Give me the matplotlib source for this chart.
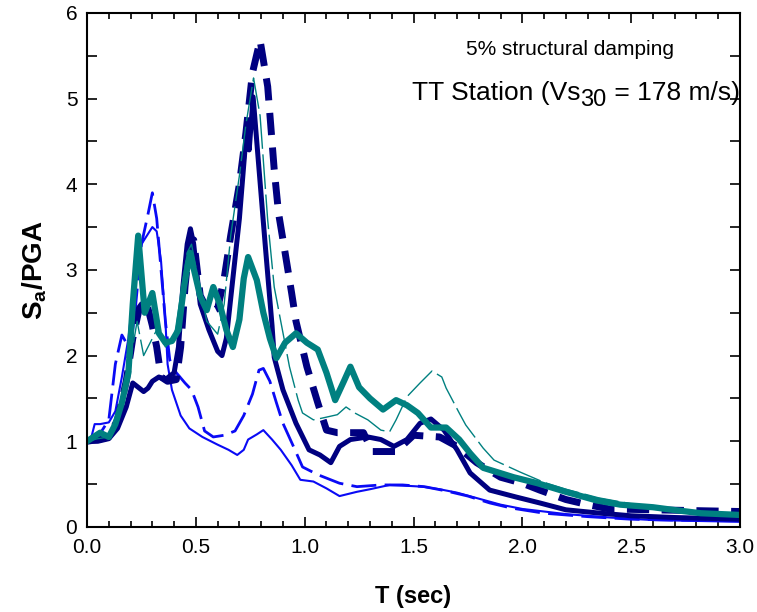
import matplotlib
matplotlib.use('Agg')
import matplotlib.pyplot as plt
from matplotlib.ticker import MultipleLocator, FormatStrFormatter

plt.rcParams['font.family'] = ['Liberation Sans', 'DejaVu Sans']
plt.rcParams['mathtext.fontset'] = 'custom'
plt.rcParams['mathtext.rm'] = 'Liberation Sans'
plt.rcParams['mathtext.it'] = 'Liberation Sans:italic'
plt.rcParams['mathtext.bf'] = 'Liberation Sans:bold'

# blue, thin solid
blue_solid_t = [0, 0.02, 0.035, 0.06, 0.1, 0.13, 0.16, 0.19, 0.22, 0.25, 0.27, 0.30, 0.32, 0.34,
                0.36, 0.37, 0.39, 0.43, 0.47, 0.53, 0.6, 0.65, 0.69, 0.72, 0.74, 0.78, 0.81, 0.85,
                0.89, 0.94, 0.98, 1.04, 1.1, 1.16, 1.24, 1.3, 1.39, 1.47, 1.54, 1.62, 1.7, 1.8,
                1.9, 2.0, 2.2, 2.4, 2.6, 2.8, 3.0]
blue_solid_sa = [1.0, 1.05, 1.2, 1.2, 1.22, 1.35, 1.75, 2.2, 2.9, 3.3, 3.38, 3.5, 3.45, 3.1,
                 2.4, 1.9, 1.6, 1.3, 1.15, 1.05, 0.96, 0.9, 0.84, 0.9, 1.02, 1.08, 1.13, 1.02,
                 0.9, 0.72, 0.55, 0.53, 0.45, 0.36, 0.41, 0.44, 0.49, 0.48, 0.47, 0.44, 0.40, 0.33,
                 0.26, 0.21, 0.15, 0.11, 0.08, 0.07, 0.06]

# blue, dashed
blue_dash_t = [0, 0.05, 0.1, 0.13, 0.16, 0.18, 0.2, 0.22, 0.25, 0.28, 0.30, 0.32, 0.34, 0.36,
               0.38, 0.41, 0.45, 0.48, 0.51, 0.54, 0.58, 0.63, 0.68, 0.72, 0.76, 0.79, 0.81, 0.84,
               0.87, 0.9, 0.95, 0.99, 1.06, 1.16, 1.24, 1.35, 1.45, 1.55, 1.65, 1.75, 1.85, 1.95,
               2.1, 2.3, 2.5, 2.7, 3.0]
blue_dash_sa = [1.0, 1.05, 1.25, 1.9, 2.24, 2.15, 2.1, 2.5, 3.3, 3.65, 3.9, 3.6, 3.0, 2.4,
                1.95, 1.8, 1.68, 1.6, 1.4, 1.12, 1.05, 1.07, 1.12, 1.3, 1.55, 1.83, 1.85, 1.7,
                1.45, 1.21, 0.93, 0.7, 0.61, 0.51, 0.47, 0.49, 0.49, 0.47, 0.42, 0.36, 0.28, 0.22,
                0.16, 0.12, 0.09, 0.08, 0.07]

# navy, thick solid
navy_solid_t = [0, 0.05, 0.1, 0.14, 0.18, 0.21, 0.24, 0.26, 0.28, 0.30, 0.33, 0.36, 0.40, 0.42,
                0.44, 0.46, 0.475, 0.49, 0.52, 0.56, 0.6, 0.62, 0.64, 0.67, 0.70, 0.735, 0.745,
                0.763, 0.79, 0.82, 0.85, 0.86, 0.9, 0.96, 1.02, 1.07, 1.12, 1.16, 1.21, 1.29,
                1.35, 1.41, 1.47, 1.53, 1.58, 1.64, 1.70, 1.76, 1.85, 1.97, 2.08, 2.2, 2.36, 2.5,
                2.7, 3.0]
navy_solid_sa = [1.0, 1.0, 1.03, 1.15, 1.4, 1.68, 1.62, 1.58, 1.62, 1.7, 1.75, 1.72, 1.8, 2.1,
                 2.8, 3.3, 3.48, 3.3, 2.6, 2.3, 2.05, 2.0, 2.2, 2.9, 3.6, 4.7, 4.4,
                 5.02, 4.18, 3.25, 2.35, 1.98, 1.6, 1.21, 0.9, 0.84, 0.75, 0.94, 1.02, 1.05,
                 1.02, 0.94, 1.02, 1.21, 1.26, 1.13, 0.9, 0.63, 0.43, 0.35, 0.28, 0.2, 0.16, 0.13,
                 0.11, 0.09]

# navy, thick dashed
navy_dash_t = [0, 0.05, 0.1, 0.14, 0.18, 0.21, 0.24, 0.27, 0.30, 0.32, 0.34, 0.37, 0.41, 0.43,
               0.45, 0.47, 0.49, 0.52, 0.56, 0.60, 0.63, 0.66, 0.70, 0.73, 0.76, 0.795, 0.83,
               0.86, 0.88, 0.91, 0.94, 0.96, 1.01, 1.06, 1.1, 1.15, 1.27, 1.31, 1.42, 1.5, 1.62,
               1.7, 1.79, 1.9, 2.0, 2.08, 2.2, 2.3, 2.4, 2.6, 2.8, 3.0]
navy_dash_sa = [1.0, 1.02, 1.05, 1.25, 1.7, 2.2, 2.55, 2.65, 2.35, 2.1, 1.75, 1.7, 1.72, 2.1,
                2.8, 3.3, 3.35, 2.7, 2.5, 2.55, 2.9, 3.4, 4.0, 4.6, 5.3, 5.68, 5.14,
                4.17, 3.66, 3.2, 2.73, 2.4, 1.87, 1.45, 1.13, 1.1, 1.1, 0.88, 0.88, 1.07, 1.05,
                0.94, 0.75, 0.58, 0.51, 0.43, 0.32, 0.26, 0.21, 0.2, 0.19, 0.18]

# teal, thick solid
teal_solid_t = [0, 0.03, 0.06, 0.1, 0.13, 0.16, 0.19, 0.21, 0.235, 0.265, 0.30, 0.33, 0.36,
                0.39, 0.42, 0.445, 0.473, 0.52, 0.55, 0.58, 0.61, 0.64, 0.67, 0.70, 0.72, 0.74,
                0.78, 0.81, 0.84, 0.87, 0.91, 0.96, 1.01, 1.06, 1.1, 1.14, 1.18, 1.21, 1.25, 1.3,
                1.36, 1.42, 1.47, 1.52, 1.58, 1.65, 1.71, 1.76, 1.82, 1.96, 2.07, 2.2, 2.34,
                2.45, 2.6, 2.69, 2.82, 3.0]
teal_solid_sa = [1.0, 1.05, 1.1, 1.05, 1.2, 1.45, 1.8, 2.6, 3.4, 2.5, 2.73, 2.26, 2.15,
                 2.17, 2.3, 2.8, 3.2, 2.69, 2.53, 2.8, 2.6, 2.3, 2.1, 2.42, 2.9, 3.15,
                 2.88, 2.5, 2.2, 1.97, 2.15, 2.26, 2.15, 2.07, 1.8, 1.48, 1.7, 1.87, 1.63, 1.5,
                 1.37, 1.48, 1.42, 1.33, 1.16, 1.16, 1.02, 0.86, 0.69, 0.58, 0.51, 0.41, 0.31,
                 0.26, 0.23, 0.2, 0.16, 0.14]

# teal, thin dashed
teal_dash_t = [0, 0.05, 0.1, 0.14, 0.18, 0.21, 0.23, 0.26, 0.29, 0.32, 0.36, 0.40, 0.43, 0.46,
               0.48, 0.51, 0.55, 0.6, 0.63, 0.66, 0.7, 0.73, 0.765, 0.795, 0.83, 0.86, 0.89,
               0.93, 0.97, 0.99, 1.04, 1.08, 1.15, 1.19, 1.23, 1.29, 1.35, 1.39, 1.42, 1.47, 1.53,
               1.585, 1.63, 1.65, 1.71, 1.74, 1.82, 1.87, 1.99, 2.1, 2.2, 2.35, 2.5, 2.7, 3.0]
teal_dash_sa = [1.0, 1.03, 1.05, 1.2, 1.6, 2.1, 2.4, 2.0, 2.15, 2.3, 2.1, 2.2, 2.7, 3.2,
                3.3, 2.9, 2.4, 2.25, 2.6, 3.4, 4.1, 4.7, 5.24, 4.8, 3.58, 2.8, 2.4,
                1.87, 1.48, 1.33, 1.25, 1.27, 1.31, 1.4, 1.33, 1.25, 1.13, 1.11, 1.25, 1.52, 1.68,
                1.82, 1.75, 1.62, 1.33, 1.19, 0.92, 0.78, 0.64, 0.52, 0.44, 0.34, 0.27, 0.2, 0.14]

fig = plt.figure(figsize=(7.57, 6.12), dpi=100)
ax = fig.add_axes([0.115, 0.139, 0.8625, 0.84])

ax.plot(blue_solid_t, blue_solid_sa, color='#0a0af5', linewidth=1.5)
ax.plot(blue_dash_t, blue_dash_sa, color='#0a0af5', linewidth=2.0, dashes=(9, 3))
ax.plot(navy_solid_t, navy_solid_sa, color='#000080', linewidth=3.6)
ax.plot(navy_dash_t, navy_dash_sa, color='#000080', linewidth=5.0, dashes=(3.2, 1.8))
ax.plot(teal_solid_t, teal_solid_sa, color='#008080', linewidth=4.5)
ax.plot(teal_dash_t, teal_dash_sa, color='#008080', linewidth=1.0, dashes=(25, 4))

ax.set_xlim(0, 3)
ax.set_ylim(0, 6)
ax.xaxis.set_major_locator(MultipleLocator(0.5))
ax.xaxis.set_minor_locator(MultipleLocator(0.1))
ax.yaxis.set_major_locator(MultipleLocator(1))
ax.yaxis.set_minor_locator(MultipleLocator(0.5))
ax.xaxis.set_major_formatter(FormatStrFormatter('%.1f'))
ax.tick_params(which='both', direction='in', top=True, right=True, labelsize=15, width=1.2)
ax.tick_params(axis='x', which='major', length=7, pad=8)
ax.tick_params(axis='x', which='minor', length=4)
ax.tick_params(axis='y', which='both', length=7, pad=7)
for s in ax.spines.values():
    s.set_linewidth(1.5)

ax.set_xlabel('T (sec)', fontsize=17, fontweight='bold', labelpad=20)
ax.set_ylabel(r'$\mathbf{S_a}$/PGA', fontsize=20, fontweight='bold', labelpad=12)

ax.text(0.74, 0.928, '5% structural damping', transform=ax.transAxes, fontsize=15,
        ha='center', va='center')

# station label built from pieces so the subscript keeps a large size
fig.canvas.draw()
renderer = fig.canvas.get_renderer()
inv = ax.transAxes.inverted()
y_base = 0.844
t3 = ax.text(0.9995, y_base, ' = 178 m/s)', transform=ax.transAxes, fontsize=19,
             ha='right', va='center')
left3 = inv.transform(t3.get_window_extent(renderer))[0][0]
t2 = ax.text(left3, y_base - 0.014, '30', transform=ax.transAxes, fontsize=17,
             ha='right', va='center')
left2 = inv.transform(t2.get_window_extent(renderer))[0][0]
ax.text(left2, y_base, 'TT Station (Vs', transform=ax.transAxes, fontsize=19,
        ha='right', va='center')

plt.savefig('out.png', dpi=100)
